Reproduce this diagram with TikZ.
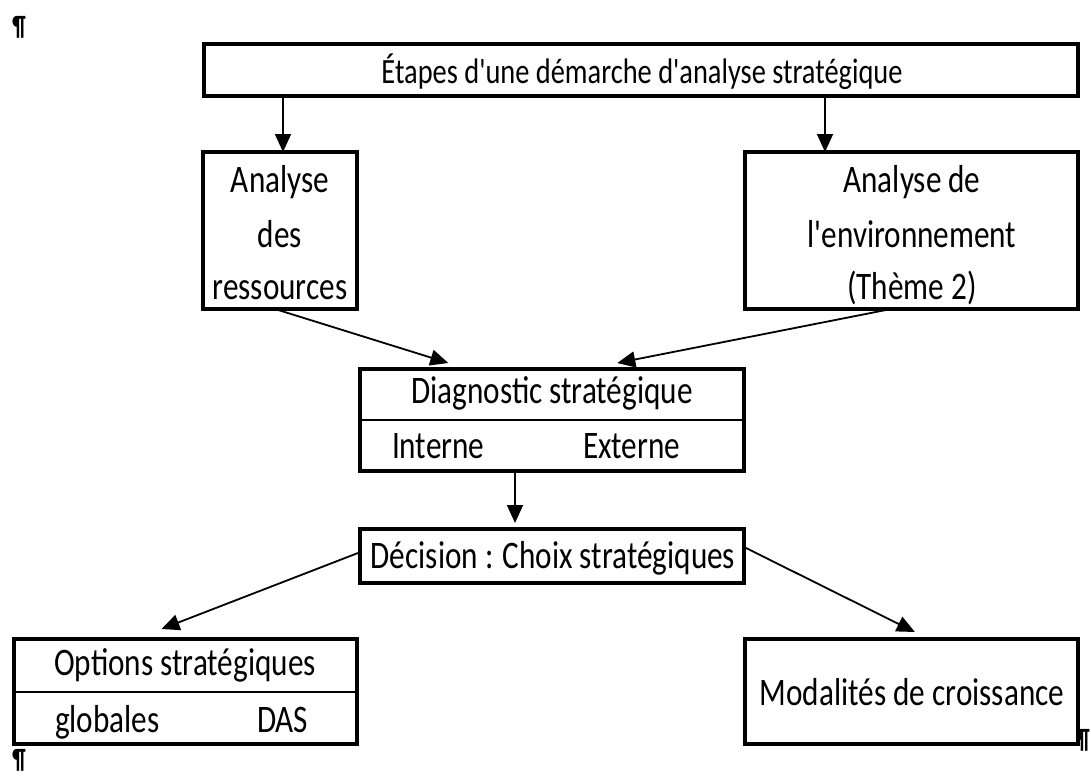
\documentclass[tikz,border=0pt]{standalone}
\usepackage{fontspec}
\setmainfont{Carlito}[FakeStretch=0.80, Ligatures=TeXOff]
\usetikzlibrary{arrows.meta,calc}
\begin{document}
\begin{tikzpicture}[x=1pt,y=-1pt,
  box/.style={draw, line width=4pt, inner sep=0pt, outer sep=0pt},
  txt/.style={inner sep=0pt, outer sep=0pt, anchor=base, font=\fontsize{39}{47}\selectfont},
  txtw/.style={txt, anchor=base west},
  ttl/.style={txt, font=\fontsize{35.5}{43}\selectfont},
  pil/.style={inner sep=0pt, font=\fontsize{28}{28}\selectfont\bfseries},
  arr/.style={line width=1.8pt, -{Triangle[length=18pt,width=16pt]}},
  divider/.style={line width=2pt}]
\useasboundingbox (0,0) rectangle (1091,776);
% boxes
\node[box, minimum width=874pt, minimum height=52pt] (top) at (641,70) {};
\node[box, minimum width=154pt, minimum height=157pt] (res) at (280,230.5) {};
\node[box, minimum width=333pt, minimum height=157pt] (env) at (911.5,230.5) {};
\node[box, minimum width=384pt, minimum height=102pt] (diag) at (552,420) {};
\node[box, minimum width=384pt, minimum height=54pt] (dec) at (552,556) {};
\node[box, minimum width=343pt, minimum height=105pt] (opt) at (185.5,691.5) {};
\node[box, minimum width=333pt, minimum height=105pt] (mod) at (911.5,691.5) {};
% dividers
\draw[divider] (diag.west) -- (diag.east);
\draw[divider] (opt.west) -- (opt.east);
% texts
\node[ttl] (topt) at (642,83) {Étapes d'une démarche d'analyse stratégique};
\node[txt] (res1) at (280,192) {Analyse};
\node[txt] (res2) at (280,247) {des};
\node[txt] (res3) at (280,299) {ressources};
\node[txt] (env1) at (912,192) {Analyse de};
\node[txt] (env2) at (912,247) {l'environnement};
\node[txt] (env3) at (912,299) {(Thème 2)};
\node[txt] (diagt) at (552,403) {Diagnostic stratégique};
\node[txtw] (int) at (392,458) {Interne};
\node[txtw] (ext) at (583,458) {Externe};
\node[txt] (dect) at (553,568) {Décision : Choix stratégiques};
\node[txt] (optt) at (185,675) {Options stratégiques};
\node[txtw] (glob) at (55,732) {globales};
\node[txtw] (das) at (257,732) {DAS};
\node[txt] (modt) at (912,705) {Modalités de croissance};
% pilcrows
\node[pil] (p1) at (19,27) {¶};
\node[pil] (p2) at (19,760) {¶};
\node[pil] (p3) at (1083,740) {¶};
% connectors
\draw[arr] (top.south -| 283,0) -- (res.north -| 283,0);
\draw[arr] (top.south -| 825,0) -- (env.north -| 825,0);
\draw[arr] (res.south -| 275,0) -- ($(diag.north west)!0.23!(diag.north east)+(0,-6)$);
\draw[arr] (env.south -| 891,0) -- ($(diag.north west)!0.67!(diag.north east)+(0,-6)$);
\draw[arr] (diag.south -| 515,0) -- ($(dec.north -| 515,0)+(0,-6)$);
\draw[arr] ($(dec.west)+(-2,-3)$) -- ($(opt.north west)!0.43!(opt.north east)+(0,-10)$);
\draw[arr] ($(dec.east)+(0,-9)$) -- ($(mod.north west)!0.51!(mod.north east)+(0,-7)$);
\end{tikzpicture}
\end{document}
